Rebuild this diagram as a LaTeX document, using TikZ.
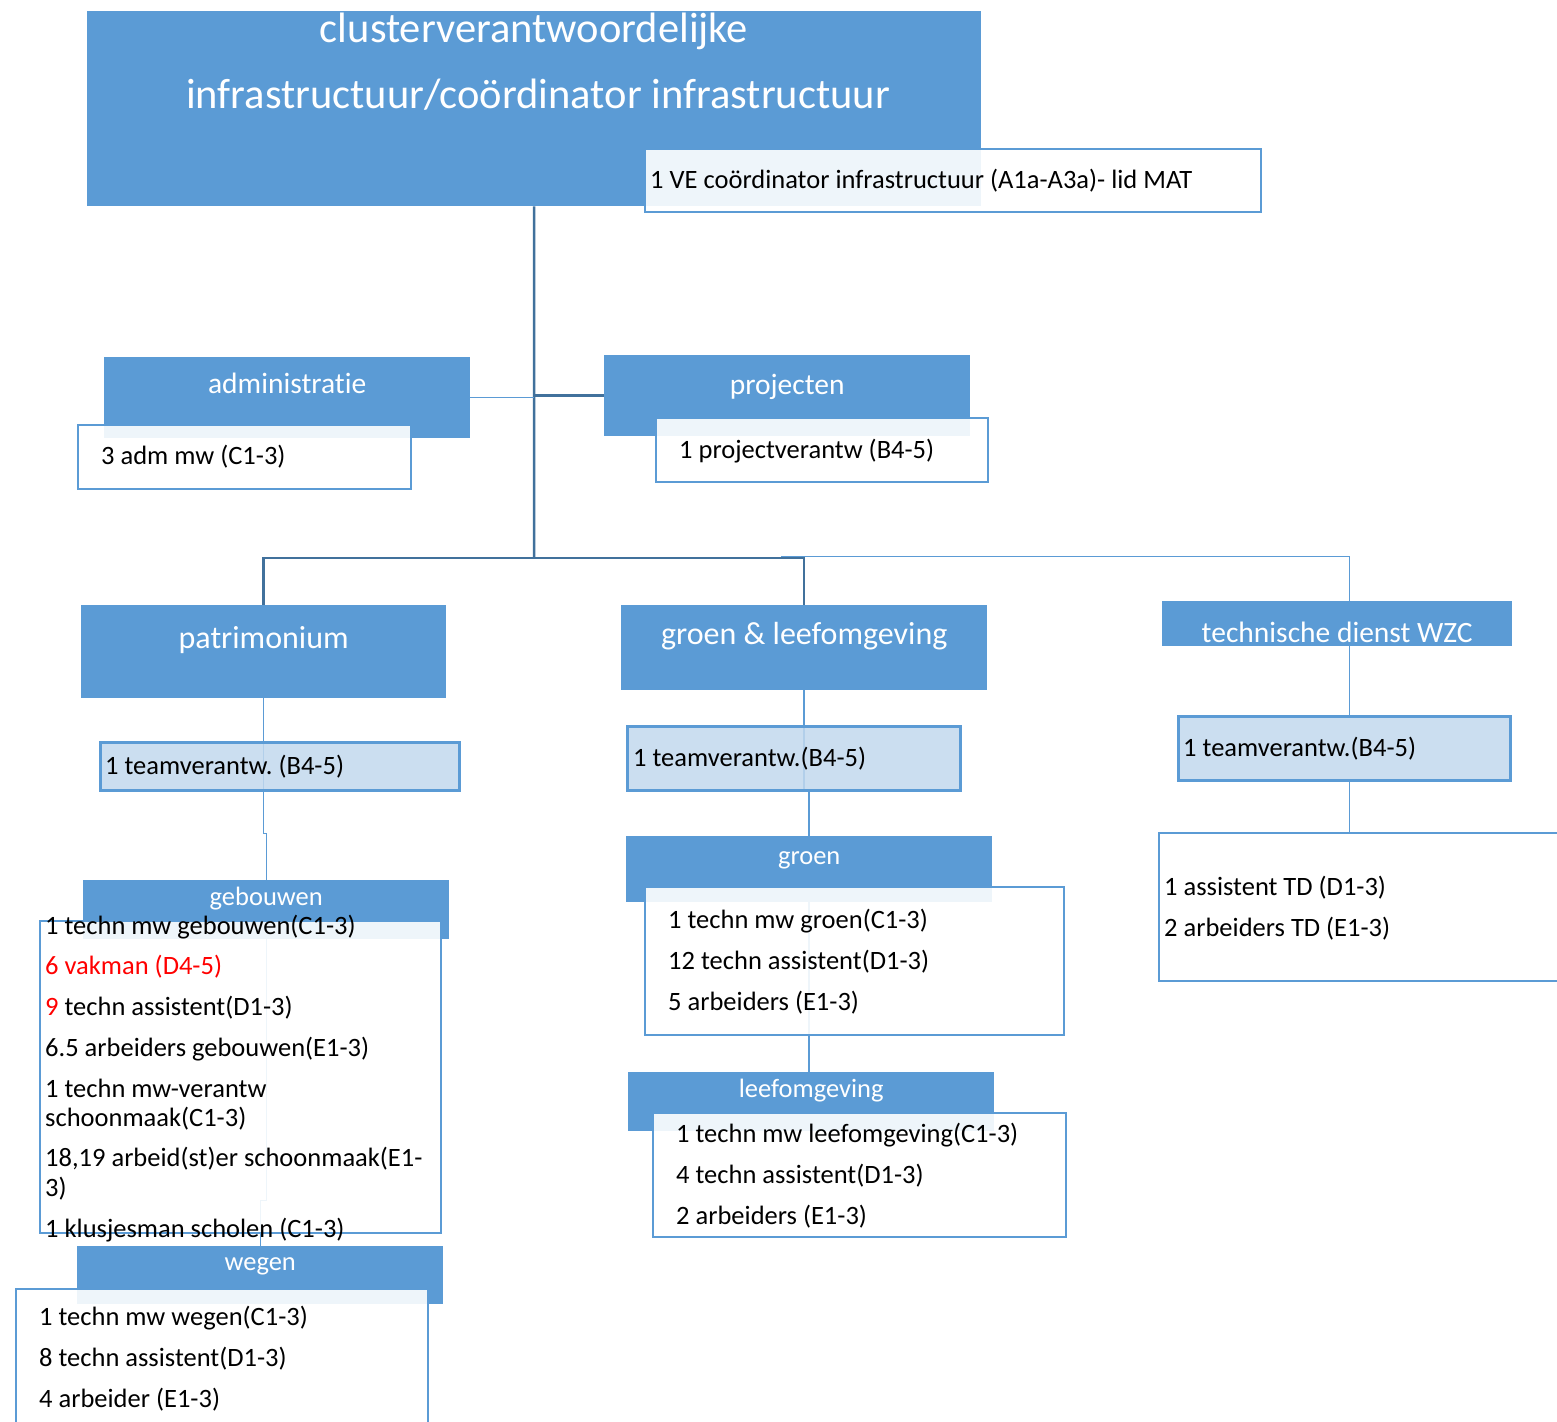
\documentclass[tikz,border=0pt]{standalone}
\usepackage{fontspec}
\setmainfont{Carlito}[Ligatures=NoCommon]
\usetikzlibrary{backgrounds,positioning}
\definecolor{ocblue}{HTML}{5B9BD5}
\definecolor{ocdark}{HTML}{41719C}
\definecolor{ocpale}{HTML}{C2D9EE}
\frenchspacing
\tikzset{
  bluebox/.style={fill=ocblue, draw=none, anchor=north west, inner sep=0pt},
  listbox/.style={draw=ocblue, line width=2pt, fill=white, fill opacity=0.9, anchor=north west, inner sep=0pt},
  teambox/.style={draw=ocblue, line width=2.5pt, fill=ocpale, fill opacity=0.85, anchor=north west, inner sep=0pt},
  txt/.style={anchor=base west, inner sep=0pt, font=\fontsize{26.5}{30}\selectfont},
  lbl/.style={anchor=base, inner sep=0pt, text=white, font=\fontsize{26.5}{30}\selectfont},
  midlbl/.style={lbl, font=\fontsize{29.5}{34}\selectfont},
  biglbl/.style={lbl, font=\fontsize{32}{36}\selectfont},
  trunk/.style={draw=ocdark, line width=2.5pt},
  stem/.style={draw=ocblue, line width=2pt},
  twig/.style={draw=ocblue, line width=1pt}
}
\begin{document}
\begin{tikzpicture}[x=1pt,y=-1pt]
\useasboundingbox (0,0) rectangle (1557,1421);

% boxes
\node[bluebox, minimum width=894pt, minimum height=195pt] (title) at (87,11) {};
\node[listbox, minimum width=616pt, minimum height=63pt] (velist) at (644,148) {};
\node[bluebox, minimum width=366pt, minimum height=81pt] (admin) at (104,357) {};
\node[listbox, minimum width=333pt, minimum height=64pt] (adminlist) at (77,424) {};
\node[bluebox, minimum width=366pt, minimum height=81pt] (proj) at (604,355) {};
\node[listbox, minimum width=332pt, minimum height=64pt] (projlist) at (655,417) {};

\node[bluebox, minimum width=365pt, minimum height=93pt] (patri) at (81,605) {};
\node[teambox, minimum width=359pt, minimum height=48pt] (patriteam) at (99,741) {};
\node[bluebox, minimum width=366pt, minimum height=59pt] (gebouwen) at (83,880) {};
\node[listbox, minimum width=401pt, minimum height=312pt] (geblist) at (39,920) {};
\node[bluebox, minimum width=366pt, minimum height=58pt] (wegen) at (77,1246) {};
\node[listbox, minimum width=412pt, minimum height=150pt] (weglist) at (15,1288) {};

\node[bluebox, minimum width=366pt, minimum height=85pt] (groenleef) at (621,605) {};
\node[teambox, minimum width=333pt, minimum height=64pt] (groenleefteam) at (626,725) {};
\node[bluebox, minimum width=366pt, minimum height=66pt] (groen) at (626,836) {};
\node[listbox, minimum width=419pt, minimum height=148pt] (groenlist) at (644,886) {};
\node[bluebox, minimum width=366pt, minimum height=59pt] (leef) at (628,1072) {};
\node[listbox, minimum width=413pt, minimum height=124pt] (leeflist) at (652,1112) {};

\node[bluebox, minimum width=350pt, minimum height=45pt] (wzc) at (1162,601) {};
\node[teambox, minimum width=332pt, minimum height=64pt] (wzcteam) at (1177,715) {};
\node[listbox, minimum width=420pt, minimum height=148pt] (wzclist) at (1158,832) {};

% connectors
\begin{scope}[on background layer]
\fill[white] (0,0) rectangle (1557,1421);
\coordinate (hub) at (534,558);
\coordinate (wzcfork) at (781,556);
\coordinate (wzcjoin) at (1349,556);
\coordinate (patribend) at (264,833);
\coordinate (gebbend) at (266,1200);
\draw[trunk] (title.south) -- (hub);
\draw[twig] (admin.east) -- (admin.east -| hub);
\draw[trunk] (proj.west -| hub) -- (proj.west);
\draw[trunk] (hub) -- (hub -| patri.north) -- (patri.north);
\draw[trunk] (hub) -- (hub -| groenleef.north) -- (groenleef.north);
\draw[twig] (wzcfork) -- (wzcjoin) -- (wzcjoin |- wzcteam.north);
\draw[twig] (wzcjoin |- wzcteam.south) -- (wzcjoin |- wzclist.north);
\draw[twig] (patri.south) |- (patribend) -| (gebouwen.north);
\draw[twig] (gebouwen.south) |- (gebbend) -| (wegen.north);
\draw[stem] (groenleef.south) -- (groenleefteam.south -| groenleef.south);
\draw[stem] (groenleefteam.south -| groen.north) -- (groen.north);
\draw[stem] (groen.south) -- (groen.south |- leef.north);
\end{scope}

% labels
\node[lbl, font=\fontsize{42.5}{48}\selectfont] (titlea) at (534,43) {clusterverantwoordelijke};
\node[lbl, font=\fontsize{42.5}{48}\selectfont] (titleb) at (538,108) {infrastructuur/coördinator infrastructuur};
\node[txt] (velbl) at (650,188) {1 VE coördinator infrastructuur (A1a-A3a)- lid MAT};
\node[midlbl] (adminlbl) at ([yshift=-36pt]admin.north) {administratie};
\node[txt] (adminitem) at (101,464) {3 adm mw (C1-3)};
\node[midlbl] (projlbl) at ([yshift=-39pt]proj.north) {projecten};
\node[txt] (projitem) at (679,458) {1 projectverantw (B4-5)};

\node[biglbl] (patrilbl) at ([yshift=-43pt]patri.north) {patrimonium};
\node[txt] (patriteamlbl) at (105,774) {1 teamverantw. (B4-5)};
\node[lbl] (geblbl) at ([yshift=-25pt]gebouwen.north) {gebouwen};
\foreach \yy/\txt [count=\i] in {934/{1 techn mw gebouwen(C1-3)}, 974/{\textcolor{red}{6 vakman (D4-5)}},
    1015/{\textcolor{red}{9} techn assistent(D1-3)}, 1056/{6.5 arbeiders gebouwen(E1-3)},
    1097/{1 techn mw-verantw}, 1126/{schoonmaak(C1-3)}, 1166/{18,19 arbeid(st)er schoonmaak(E1-},
    1196/{3)}, 1237/{1 klusjesman scholen (C1-3)}}
  \node[txt] (geb\i) at (45,\yy) {\txt};
\node[lbl] (weglbl) at ([yshift=-24pt]wegen.north) {wegen};
\foreach \yy/\txt [count=\i] in {1325/{1 techn mw wegen(C1-3)}, 1366/{8 techn assistent(D1-3)}, 1407/{4 arbeider (E1-3)}}
  \node[txt] (weg\i) at (39,\yy) {\txt};

\node[biglbl] (groenleeflbl) at ([yshift=-39pt]groenleef.north) {groen \& leefomgeving};
\node[txt] (groenleefteamlbl) at (633,766) {1 teamverantw.(B4-5)};
\node[lbl] (groenlbl) at ([yshift=-28pt]groen.north) {groen};
\foreach \yy/\txt [count=\i] in {928/{1 techn mw groen(C1-3)}, 969/{12 techn assistent(D1-3)}, 1010/{5 arbeiders (E1-3)}}
  \node[txt] (groen\i) at (668,\yy) {\txt};
\node[lbl] (leeflbl) at ([yshift=-25pt]leef.north) {leefomgeving};
\foreach \yy/\txt [count=\i] in {1142/{1 techn mw leefomgeving(C1-3)}, 1183/{4 techn assistent(D1-3)}, 1224/{2 arbeiders (E1-3)}}
  \node[txt] (leef\i) at (676,\yy) {\txt};

\node[midlbl] (wzclbl) at ([yshift=-41pt]wzc.north) {technische dienst WZC};
\node[txt] (wzcteamlbl) at (1183,756) {1 teamverantw.(B4-5)};
\node[txt] (wzc1) at (1164,895) {1 assistent TD (D1-3)};
\node[txt] (wzc2) at (1164,936) {2 arbeiders TD (E1-3)};

\end{tikzpicture}
\end{document}
